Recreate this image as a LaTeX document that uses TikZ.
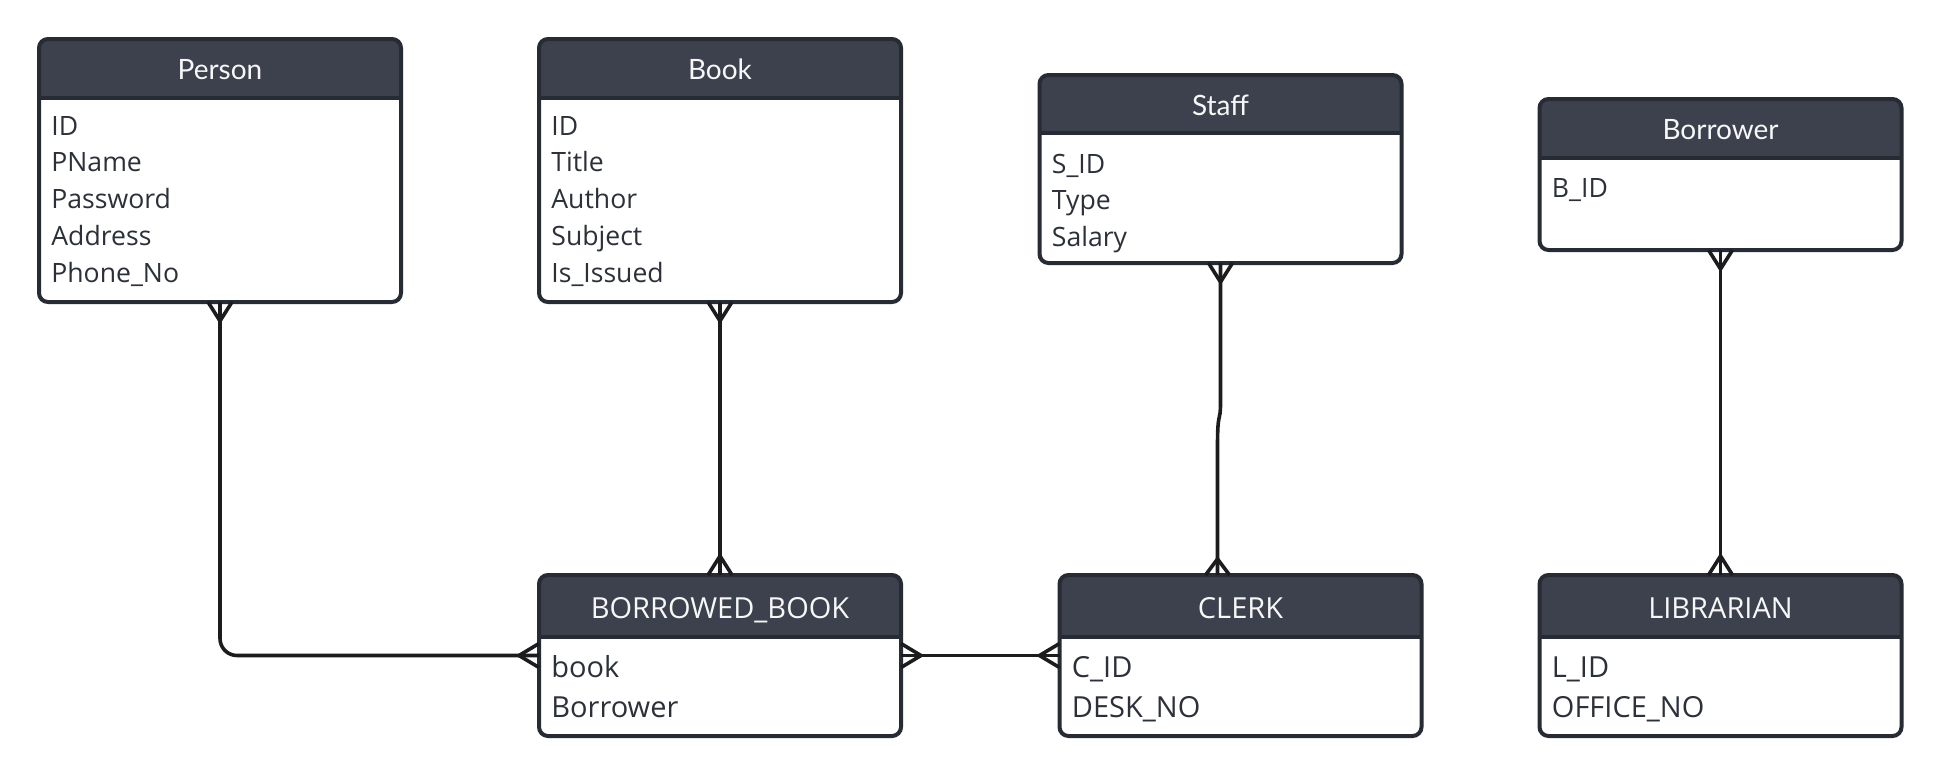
\documentclass[tikz,border=0pt]{standalone}
\usepackage{fontspec}
\setmainfont{Open Sans}
\newfontfamily\latofont{Lato}
\usetikzlibrary{calc}
\definecolor{hdrc}{HTML}{3C414D}
\definecolor{bordc}{HTML}{262B34}
\definecolor{txtc}{HTML}{2C3038}
\definecolor{linec}{HTML}{1C1C1E}
\definecolor{ttlc}{HTML}{F7F7F7}
\tikzset{
  entity/.style 2 args={draw=bordc, line width=2pt, fill=white, rounded corners=4.5pt,
    minimum width=181pt, minimum height=#1, inner sep=0pt, outer sep=0pt,
    path picture={\fill[hdrc, sharp corners] ([yshift=2pt]path picture bounding box.north west) rectangle ([yshift=-#2]path picture bounding box.north east);
      \draw[bordc, line width=2pt, sharp corners] ([yshift=-#2]path picture bounding box.north west) -- ([yshift=-#2]path picture bounding box.north east);}},
  ttltop/.style={text=ttlc, font=\latofont\fontsize{14}{16}\selectfont, inner sep=0pt, anchor=base},
  ttlbot/.style={text=ttlc, font=\fontsize{14.5}{17}\selectfont, inner sep=0pt, anchor=base},
  rowtop/.style={text=txtc, font=\fontsize{13.3}{16}\selectfont, inner sep=0pt, anchor=base west},
  rowbot/.style={text=txtc, font=\fontsize{14.5}{17}\selectfont, inner sep=0pt, anchor=base west},
  conn/.style={draw=linec, line width=1.8pt}
}
\newcommand\crowv[2]{\draw[conn] ($(#1)+(-12,0)$) -- ($(#1)+(0,#2)$) -- ($(#1)+(12,0)$);}
\newcommand\crowh[2]{\draw[conn] ($(#1)+(0,-12)$) -- ($(#1)+(#2,0)$) -- ($(#1)+(0,12)$);}
\begin{document}
\begin{tikzpicture}[x=0.5pt, y=-0.5pt]
\useasboundingbox (0,0) rectangle (1941,777);
\fill[white] (0,0) rectangle (1941,777);

% entities
\node[entity={131.5pt}{29.5pt}] (person) at (220,170.5) {};
\node[entity={131.5pt}{29.5pt}] (book) at (720,170.5) {};
\node[entity={94pt}{29pt}] (staff) at (1220.5,169) {};
\node[entity={75.5pt}{29.5pt}] (borrower) at (1720.5,174.5) {};
\node[entity={80.5pt}{31pt}] (bb) at (720,655.5) {};
\node[entity={80.5pt}{31pt}] (clerk) at (1240.5,655.5) {};
\node[entity={80.5pt}{31pt}] (lib) at (1720.5,655.5) {};

% titles
\node[ttltop] (person-t) at ($(person.north)+(0,40)$) {Person};
\node[ttltop] (book-t) at ($(book.north)+(0,40)$) {Book};
\node[ttltop] (staff-t) at ($(staff.north)+(0,40)$) {Staff};
\node[ttltop] (borrower-t) at ($(borrower.north)+(0,40)$) {Borrower};
\node[ttlbot] (bb-t) at ($(bb.north)+(0,43)$) {BORROWED\_BOOK};
\node[ttlbot] (clerk-t) at ($(clerk.north)+(0,43)$) {CLERK};
\node[ttlbot] (lib-t) at ($(lib.north)+(0,43)$) {LIBRARIAN};

% rows
\foreach \t [count=\i from 0] in {ID,PName,Password,Address,Phone\_No}
  \node[rowtop] (person-r\i) at ($(person.north west)+(12,96+36.8*\i)$) {\t};
\foreach \t [count=\i from 0] in {ID,Title,Author,Subject,Is\_Issued}
  \node[rowtop] (book-r\i) at ($(book.north west)+(12,96+36.8*\i)$) {\t};
\foreach \t [count=\i from 0] in {S\_ID,Type,Salary}
  \node[rowtop] (staff-r\i) at ($(staff.north west)+(12,98+36.5*\i)$) {\t};
\node[rowtop] (borrower-r0) at ($(borrower.north west)+(12,98)$) {B\_ID};
\foreach \t [count=\i from 0] in {book,Borrower}
  \node[rowbot] (bb-r\i) at ($(bb.north west)+(12,102+40*\i)$) {\t};
\foreach \t [count=\i from 0] in {C\_ID,DESK\_NO}
  \node[rowbot] (clerk-r\i) at ($(clerk.north west)+(12,102+40*\i)$) {\t};
\foreach \t [count=\i from 0] in {L\_ID,OFFICE\_NO}
  \node[rowbot] (lib-r\i) at ($(lib.north west)+(12,102+40*\i)$) {\t};

% connectors
\coordinate (ck) at ($(clerk.north west)+(158,0)$);
\draw[conn, rounded corners=8.5pt] (person.south) |- (bb.west);
\draw[conn] (book.south) -- (bb.north);
\draw[conn] (bb.east) -- (clerk.west);
\draw[conn] (staff.south) -- ++(0,140) .. controls +(0,20) and ($(ck)+(0,-165)$) .. ($(ck)+(0,-130)$) -- (ck);
\draw[conn] (borrower.south) -- (lib.north);

% crow's feet
\crowv{person.south}{19}
\crowv{book.south}{19}
\crowv{bb.north}{-19}
\crowh{bb.west}{-20}
\crowh{bb.east}{20}
\crowh{clerk.west}{-20}
\crowv{staff.south}{19}
\crowv{ck}{-16}
\crowv{borrower.south}{19}
\crowv{lib.north}{-19}
\end{tikzpicture}
\end{document}
